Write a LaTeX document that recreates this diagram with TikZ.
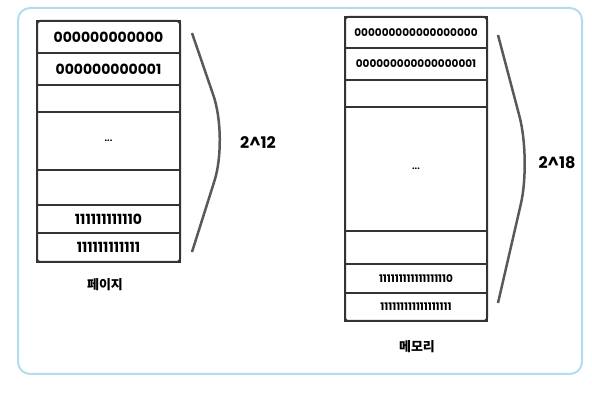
\documentclass[tikz,border=0pt]{standalone}
\usepackage{fontspec}
\setmainfont{Poppins}
\newfontfamily\krfont{Noto Sans CJK KR}
\usetikzlibrary{positioning}
\definecolor{framecyan}{RGB}{178,222,236}

\begin{document}
\begin{tikzpicture}
      [x=1pt, y=-1pt,
       cell/.style={
           rectangle,
           draw=black!80, line width=2pt,
           minimum width=143pt,
           inner sep=0pt, outer sep=0pt,
           text centered,
           font=\fontsize{14}{16}\selectfont\bfseries
         },
       mcell/.style={
           cell,
           minimum width=142pt,
           font=\fontsize{10.5}{12}\selectfont\bfseries
         },
       stack/.style={draw=black!80, line width=2pt, rounded corners=3pt},
       brace/.style={draw=black!65, line width=2.5pt, rounded corners=45pt},
       size/.style={font=\fontsize{16}{18}\selectfont\bfseries},
       caption/.style={font=\krfont\fontsize{13}{15}\selectfont\bfseries},
       ]
    \useasboundingbox (0,0) rectangle (592,403);
    \draw [draw=framecyan, line width=2pt, rounded corners=12pt] (18,8) rectangle (582,374);

    \node [cell, minimum height=32pt, anchor=north] (p1) at (108.5,21) {000000000000};
    \node [cell, minimum height=32pt, below=0pt of p1] (p2) {000000000001};
    \node [cell, minimum height=27pt, below=0pt of p2] (p3) {};
    \node [cell, minimum height=58pt, below=0pt of p3] (p4) {\fontsize{9}{10}\selectfont ...};
    \node [cell, minimum height=35pt, below=0pt of p4] (p5) {};
    \node [cell, minimum height=28pt, below=0pt of p5] (p6) {111111111110};
    \node [cell, minimum height=29pt, below=0pt of p6] (p7) {111111111111};
    \draw [stack] (p1.north west) rectangle (p7.south east);

    \node [mcell, minimum height=31pt, anchor=north] (m1) at (416,17) {000000000000000000};
    \node [mcell, minimum height=32pt, below=0pt of m1] (m2) {000000000000000001};
    \node [mcell, minimum height=27pt, below=0pt of m2] (m3) {};
    \node [mcell, minimum height=124pt, below=0pt of m3] (m4) {\fontsize{9}{10}\selectfont ...};
    \node [mcell, minimum height=33pt, below=0pt of m4] (m5) {};
    \node [mcell, minimum height=29pt, below=0pt of m5] (m6) {111111111111111110};
    \node [mcell, minimum height=28pt, below=0pt of m6] (m7) {111111111111111111};
    \draw [stack] (m1.north west) rectangle (m7.south east);

    \coordinate (ptip) at (228,138);
    \coordinate (mtip) at (531,160);
    \draw [brace] ([shift={(12,12)}]p1.north east) -- (ptip) -- ([shift={(12,-10)}]p7.south east);
    \draw [brace] ([shift={(11,18)}]m1.north east) -- (mtip) -- ([shift={(11,-18)}]m7.south east);

    \node [size] (n12) at (258,143) {2\textasciicircum12};
    \node [size] (n18) at (557,163) {2\textasciicircum18};

    \node [caption] (page) at (105,285) {페이지};
    \node [caption] (mem) at (417,347) {메모리};
  \end{tikzpicture}
\end{document}
